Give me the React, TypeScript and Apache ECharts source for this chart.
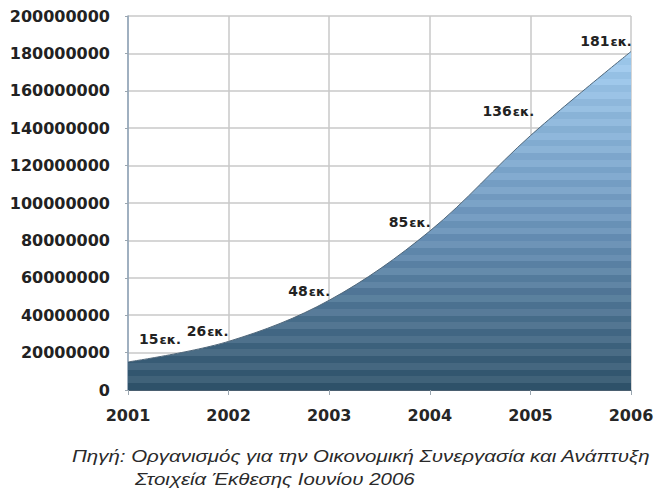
import React, { useEffect, useRef } from "react";
import * as echarts from "echarts";

const years = ["2001", "2002", "2003", "2004", "2005", "2006"];
const users = [15000000, 26000000, 48000000, 85000000, 136000000, 181000000];
const labelOffsets: [number, number][] = [
  [32, -10],
  [-21, 2],
  [-20, 3],
  [-20, 3],
  [-22, -12],
  [-25, 2],
];
const footerLine1 = "Πηγή: Οργανισμός για την Οικονομική Συνεργασία και Ανάπτυξη";
const footerLine2 = "Στοιχεία Έκθεσης Ιουνίου 2006";

function mix(a: number[], b: number[], t: number) {
  return a.map((v, i) => Math.round(v + (b[i] - v) * t));
}
function rgb(c: number[]) {
  return `rgb(${c[0]},${c[1]},${c[2]})`;
}

function buildStripes() {
  // top (offset 0) light blue -> bottom (offset 1) dark slate blue
  const top = [162, 206, 242];
  const mid = [108, 150, 190];
  const bot = [46, 82, 106];
  const bands = 50;
  const stops: { offset: number; color: string }[] = [];
  for (let i = 0; i < bands; i++) {
    const o0 = i / bands;
    const o1 = (i + 1) / bands;
    const t = (o0 + o1) / 2;
    const base = t < 0.5 ? mix(top, mid, t / 0.5) : mix(mid, bot, (t - 0.5) / 0.5);
    const c = i % 2 === 0 ? mix(base, [255, 255, 255], 0.07) : mix(base, [0, 0, 0], 0.03);
    stops.push({ offset: o0, color: rgb(c) });
    stops.push({ offset: o1, color: rgb(c) });
  }
  return stops;
}

const footerFont = "italic 16px 'Liberation Sans', Arial, sans-serif";

export default function App() {
  const ref = useRef<HTMLDivElement>(null);
  useEffect(() => {
    if (!ref.current) return;
    const chart = echarts.init(ref.current, null, { renderer: "svg" });
    chart.setOption({
      animation: false,
      backgroundColor: "#ffffff",
      grid: { left: 128, right: 36, top: 16, bottom: 107 },
      xAxis: {
        type: "category",
        data: years,
        boundaryGap: false,
        axisLine: { show: true, lineStyle: { color: "#4a5f70", width: 1 } },
        axisTick: { show: true, length: 5, lineStyle: { color: "#9aa6b0" } },
        axisLabel: {
          margin: 17,
          color: "#262626",
          fontFamily: "DejaVu Sans",
          fontWeight: "bold",
          fontSize: 16,
        },
        splitLine: { show: true, lineStyle: { color: "#c9c9c9", width: 1.5 } },
      },
      yAxis: {
        type: "value",
        min: 0,
        max: 200000000,
        interval: 20000000,
        axisLine: { show: true, lineStyle: { color: "#8ea3b8", width: 1.5 } },
        axisTick: { show: true, length: 3, lineStyle: { color: "#9aa6b0" } },
        axisLabel: {
          margin: 18,
          color: "#222",
          fontFamily: "DejaVu Sans",
          fontWeight: "bold",
          fontSize: 16,
          formatter: (v: number) => String(v),
        },
        splitLine: { show: true, lineStyle: { color: "#c9c9c9", width: 1.5 } },
      },
      series: [
        {
          type: "line",
          data: users.map((v, i) => ({
            value: v,
            label: { offset: labelOffsets[i] },
          })),
          smooth: 0.35,
          showSymbol: true,
          symbol: "circle",
          symbolSize: 1,
          itemStyle: { color: "rgba(0,0,0,0)" },
          lineStyle: { color: "#50677a", width: 1 },
          areaStyle: {
            opacity: 1,
            color: new echarts.graphic.LinearGradient(0, 0, 0, 1, buildStripes()),
          },
          label: {
            show: true,
            position: "top",
            distance: 5,
            formatter: (p: any) => `{n|${Math.round(p.value / 1000000)}}{u|εκ.}`,
            rich: {
              n: {
                fontFamily: "DejaVu Sans",
                fontWeight: "bold",
                fontSize: 14,
                color: "#222",
              },
              u: {
                fontFamily: "DejaVu Sans",
                fontWeight: "bold",
                fontSize: 13,
                color: "#222",
                padding: [1, 0, 0, 1],
              },
            },
          },
        },
      ],
      graphic: [
        {
          type: "text",
          x: 72,
          y: 448,
          scaleX: 1.28,
          style: {
            text: footerLine1,
            font: footerFont,
            fill: "#2a2a2a",
          },
        },
        {
          type: "text",
          x: 135,
          y: 471,
          scaleX: 1.28,
          style: {
            text: footerLine2,
            font: footerFont,
            fill: "#2a2a2a",
          },
        },
      ],
    });
    return () => chart.dispose();
  }, []);
  return (
    <div
      ref={ref}
      style={{ position: "fixed", left: 0, top: 0, width: 667, height: 497 }}
    />
  );
}
